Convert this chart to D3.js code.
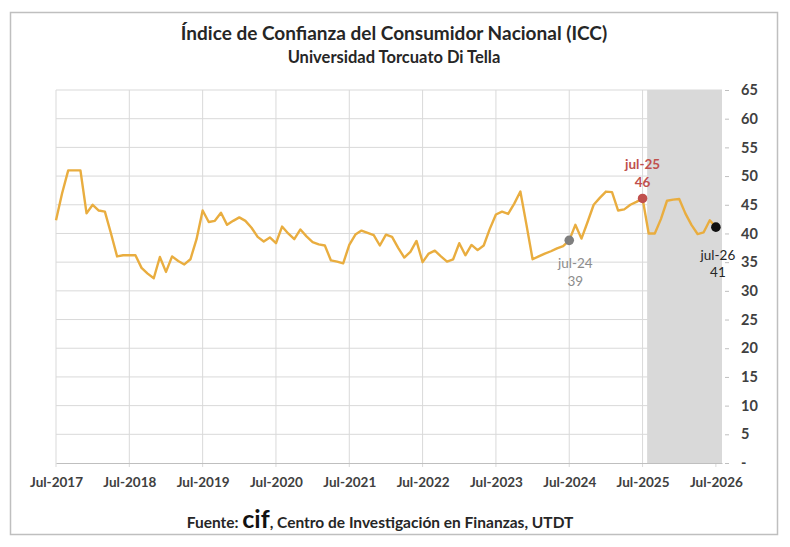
<!DOCTYPE html>
<html>
<head>
<meta charset="utf-8">
<script src="https://cdn.jsdelivr.net/npm/d3@7"></script>
<style>
    body { margin: 0; background: #fff; }
    svg text { font-family: Lato, "Open Sans", sans-serif; }
</style>
</head>
<body>
<div id="chart"></div>
<script>
// monthly ICC, Jul-2017 .. Jul-2026 (index 0 = Jul-2017)
const iccValues = [
    42.3, 47.0, 51.0, 51.0, 51.0, 43.5, 45.0, 44.0, 43.8, 40.0, 36.0, 36.2,
    36.2, 36.2, 34.0, 33.0, 32.2, 35.9, 33.3, 36.0, 35.2, 34.6, 35.5, 39.0,
    44.0, 42.0, 42.2, 43.6, 41.5, 42.2, 42.8, 42.2, 41.0, 39.4, 38.6, 39.3,
    38.3, 41.2, 40.0, 39.0, 40.7, 39.5, 38.5, 38.1, 37.9, 35.3, 35.1, 34.8,
    38.0, 39.8, 40.5, 40.1, 39.7, 37.9, 39.8, 39.4, 37.5, 35.8, 36.8, 38.7,
    35.0, 36.5, 37.0, 36.0, 35.1, 35.5, 38.3, 36.2, 38.0, 37.1, 37.9, 40.8,
    43.3, 43.8, 43.4, 45.2, 47.3, 41.5, 35.5, 36.0, 36.5, 36.9, 37.4, 37.8,
    38.8, 41.5, 39.1, 42.0, 45.0, 46.2, 47.3, 47.2, 44.0, 44.2, 45.0, 45.5,
    46.1, 40.0, 40.0, 42.5, 45.7, 45.9, 46.0, 43.5, 41.5, 39.9, 40.2, 42.3,
    41.1
];
const tickLabels = ["Jul-2017", "Jul-2018", "Jul-2019", "Jul-2020", "Jul-2021",
    "Jul-2022", "Jul-2023", "Jul-2024", "Jul-2025", "Jul-2026"];
const yTicks = [0, 5, 10, 15, 20, 25, 30, 35, 40, 45, 50, 55, 60, 65];
const highlightMonths = [84, 96, 108];
const highlightLabels = ["jul-24", "jul-25", "jul-26"];
const shadeRange = [96.75, 109];

const W = 790, H = 547;
const margin = {left: 56, right: 68, top: 90, bottom: 84};
const markStyle = [
    {fill: "#7f7f7f", text: "#8c8c8c", weight: 400, dx: 6, dy: [28, 46]},
    {fill: "#c0504d", text: "#c0504d", weight: 700, dx: 0, dy: [-29, -11]},
    {fill: "#111111", text: "#262626", weight: 400, dx: 2, dy: [33, 50]}
];

class ICCPlot {
    render(div) {
        this.svg = d3.select(div).append("svg")
            .attr("width", W)
            .attr("height", H);
        this.build_plot();
    }

    build_plot() {
        const svg = this.svg;
        const x = d3.scaleLinear()
            .domain([0, 109])
            .range([margin.left, W - margin.right]);
        const y = d3.scaleLinear()
            .domain([0, 65])
            .range([H - margin.bottom, margin.top]);

        // chart frame
        svg.append("rect")
            .attr("x", 10.5).attr("y", 12.5)
            .attr("width", 767).attr("height", 522)
            .attr("fill", "#fff")
            .attr("stroke", "#bfbfbf")
            .attr("stroke-width", 1.5);

        svg.append("text")
            .attr("x", 394).attr("y", 40)
            .attr("text-anchor", "middle")
            .attr("font-size", 19).attr("font-weight", 700)
            .attr("fill", "#262626")
            .text("Índice de Confianza del Consumidor Nacional (ICC)");
        svg.append("text")
            .attr("x", 394).attr("y", 63)
            .attr("text-anchor", "middle")
            .attr("font-size", 16.5).attr("font-weight", 700)
            .attr("fill", "#262626")
            .text("Universidad Torcuato Di Tella");

        // horizontal grid
        svg.append("g")
            .selectAll("line")
            .data(yTicks.slice(1))
            .join("line")
            .attr("x1", x(0)).attr("x2", x(109))
            .attr("y1", d => y(d)).attr("y2", d => y(d))
            .attr("stroke", "#d9d9d9");

        // vertical grid every 12 months
        svg.append("g")
            .selectAll("line")
            .data(tickLabels)
            .join("line")
            .attr("x1", (d, i) => x(i * 12)).attr("x2", (d, i) => x(i * 12))
            .attr("y1", y(65)).attr("y2", y(0) + 4)
            .attr("stroke", "#d9d9d9");

        // projected period shading
        svg.append("rect")
            .attr("x", x(shadeRange[0]))
            .attr("y", y(65))
            .attr("width", x(shadeRange[1]) - x(shadeRange[0]))
            .attr("height", y(0) - y(65))
            .attr("fill", "#d9d9d9");

        // bottom axis
        const xAxis = d3.axisBottom(x)
            .tickValues(d3.range(0, 109, 12))
            .tickFormat((d, i) => tickLabels[i])
            .tickSize(0)
            .tickPadding(14);
        const gx = svg.append("g")
            .attr("transform", `translate(0,${y(0)})`)
            .call(xAxis);
        gx.select(".domain").attr("stroke", "#bfbfbf");
        gx.selectAll("text")
            .attr("font-size", 13.5).attr("font-weight", 700)
            .attr("fill", "#404040")
            .attr("font-family", "Lato, sans-serif");

        // right axis
        const yAxis = d3.axisRight(y)
            .tickValues(yTicks)
            .tickFormat(d => d === 0 ? "-" : d)
            .tickSize(0)
            .tickPadding(19);
        const gy = svg.append("g")
            .attr("transform", `translate(${x(109)},0)`)
            .call(yAxis);
        gy.select(".domain").remove();
        gy.selectAll("text")
            .attr("font-size", 14.5).attr("font-weight", 700)
            .attr("fill", "#404040")
            .attr("font-family", "Lato, sans-serif");
        gy.selectAll(".tick").append("line")
            .attr("x1", 3).attr("x2", 7)
            .attr("stroke", "#bfbfbf");

        // ICC line
        const line = d3.line()
            .x((d, i) => x(i))
            .y(d => y(d));
        svg.append("path")
            .datum(iccValues)
            .attr("fill", "none")
            .attr("stroke", "#e9ad3f")
            .attr("stroke-width", 2.4)
            .attr("stroke-linejoin", "round")
            .attr("d", line);

        // highlighted months
        const hl = svg.append("g")
            .selectAll("g")
            .data(highlightMonths)
            .join("g")
            .attr("transform", d => `translate(${x(d)},${y(iccValues[d])})`);
        hl.append("circle")
            .attr("r", 4.8)
            .attr("fill", (d, i) => markStyle[i].fill);
        hl.append("text")
            .attr("x", (d, i) => markStyle[i].dx)
            .attr("y", (d, i) => markStyle[i].dy[0])
            .attr("text-anchor", "middle")
            .attr("font-size", 13.5)
            .attr("font-weight", (d, i) => markStyle[i].weight)
            .attr("fill", (d, i) => markStyle[i].text)
            .text((d, i) => highlightLabels[i]);
        hl.append("text")
            .attr("x", (d, i) => markStyle[i].dx)
            .attr("y", (d, i) => markStyle[i].dy[1])
            .attr("text-anchor", "middle")
            .attr("font-size", 13.5)
            .attr("font-weight", (d, i) => markStyle[i].weight)
            .attr("fill", (d, i) => markStyle[i].text)
            .text(d => Math.round(iccValues[d]));

        // source note
        const src = svg.append("text")
            .attr("x", 380).attr("y", 528)
            .attr("text-anchor", "middle")
            .attr("font-size", 15.5).attr("font-weight", 700)
            .attr("fill", "#262626");
        src.append("tspan").text("Fuente: ");
        src.append("tspan").attr("font-size", 25).attr("fill", "#111").text("cif");
        src.append("tspan").text(", Centro de Investigación en Finanzas, UTDT");
    }
}

new ICCPlot().render("#chart");
</script>
</body>
</html>
